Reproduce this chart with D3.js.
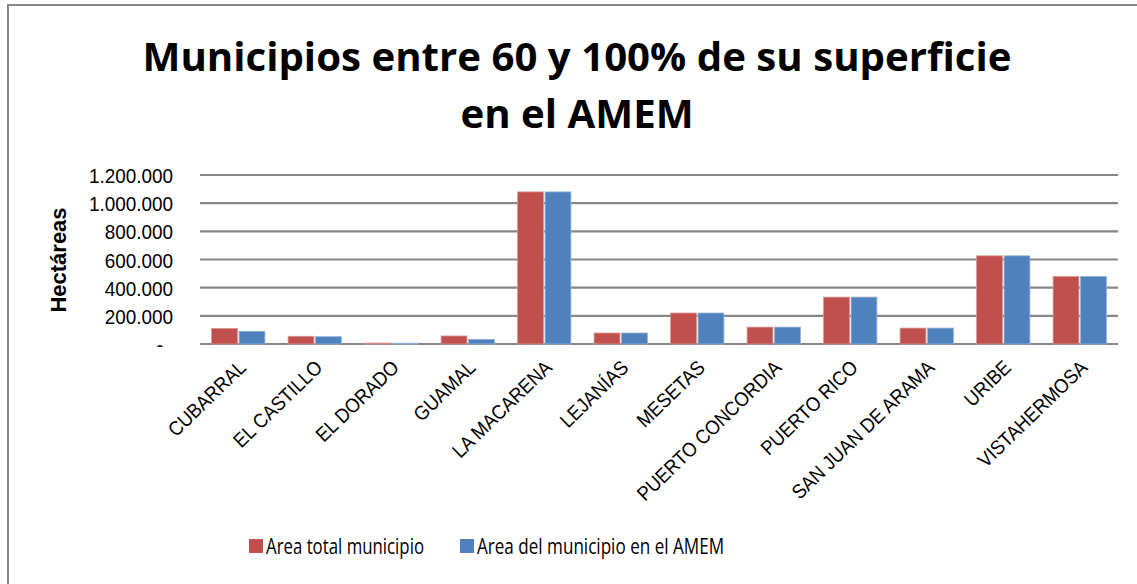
<!DOCTYPE html>
<html>
<head>
<meta charset="utf-8">
<script src="https://cdn.jsdelivr.net/npm/d3@7"></script>
<style>
  body { margin: 0; background: #fff; }
  svg { display: block; }
</style>
</head>
<body>
<div class="chart"></div>
<script>
// data
var municipios = ["CUBARRAL", "EL CASTILLO", "EL DORADO", "GUAMAL", "LA MACARENA", "LEJANÍAS",
  "MESETAS", "PUERTO CONCORDIA", "PUERTO RICO", "SAN JUAN DE ARAMA", "URIBE", "VISTAHERMOSA"];
var areaTotal = [111000, 55000, 7000, 57000, 1080000, 78000, 220000, 120000, 333000, 113000, 626000, 480000];
var areaAmem = [90000, 52000, 6000, 33000, 1080000, 78000, 220000, 120000, 333000, 113000, 626000, 480000];
var seriesNames = ["Area total municipio", "Area del municipio en el AMEM"];
var yTicks = [0, 200000, 400000, 600000, 800000, 1000000, 1200000];
var colors = ["#C0504D", "#4F81BD"];

var svgWidth = 1137;
var svgHeight = 584;
var margin = {top: 175, right: 19, bottom: 240, left: 200};
var width = svgWidth - margin.left - margin.right;
var height = svgHeight - margin.top - margin.bottom;

// squeeze text horizontally, the picture's text looks condensed
function squeeze(sel, k) {
    sel.each(function() {
        var l = this.getComputedTextLength();
        d3.select(this).attr("textLength", l * k).attr("lengthAdjust", "spacingAndGlyphs");
    });
}

var svg = d3.select(".chart")
    .append("svg")
    .attr("width", svgWidth)
    .attr("height", svgHeight);

// outer chart border (right/bottom fall outside the view)
svg.append("rect")
    .attr("x", 8).attr("y", 5)
    .attr("width", svgWidth).attr("height", svgHeight)
    .attr("fill", "none")
    .attr("stroke", "#868686")
    .attr("stroke-width", 2);

// title
var title = svg.append("text")
    .attr("x", 577)
    .attr("text-anchor", "middle")
    .style("font-family", "'Open Sans', sans-serif")
    .style("font-weight", "bold")
    .style("font-size", "40px");
title.append("tspan").attr("x", 577).attr("y", 71).text("Municipios entre 60 y 100% de su superficie");
title.append("tspan").attr("x", 577).attr("y", 128).text("en el AMEM");
// fit first line to the width seen in the picture
var w0 = title.select("tspan").node().getComputedTextLength();
title.style("font-size", (40 * 869 / w0) + "px");

var chart = svg.append("g")
    .attr("transform", "translate(" + margin.left + "," + margin.top + ")");

var x0 = d3.scaleBand().domain(municipios).range([0, width]).paddingInner(0.26).paddingOuter(0.13);
var x1 = d3.scaleBand().domain([0, 1]).range([0, x0.bandwidth()]).padding(0.06);
var y = d3.scaleLinear().domain([0, 1200000]).range([height, 0]);

// gridlines
chart.append("g")
    .selectAll("line")
    .data(yTicks)
    .enter()
    .append("line")
    .attr("x1", 0).attr("x2", width)
    .attr("y1", function(d) { return y(d); })
    .attr("y2", function(d) { return y(d); })
    .attr("stroke", "#868686")
    .attr("stroke-width", 2.2);

// y axis labels
var fmt = function(d) {
    if (d === 0) return "-";
    return d3.format(",")(d).replace(/,/g, ".");
};
var leftAxis = d3.axisLeft(y).tickValues(yTicks).tickFormat(fmt).tickSize(0).tickPadding(27);
var yAxis = chart.append("g").call(leftAxis);
yAxis.select(".domain").remove();
yAxis.selectAll("text")
    .style("font-family", "'Liberation Sans', Arial, sans-serif")
    .style("font-size", "21px")
    .attr("fill", "#000")
    .attr("dy", "0.36em");
squeeze(yAxis.selectAll("text"), 0.9);
// the zero dash sits a little left, as in accounting format
yAxis.selectAll("text").filter(function(d) { return d === 0; }).attr("dx", -10);

// bars
var series = [areaTotal, areaAmem];
series.forEach(function(vals, s) {
    chart.append("g")
        .selectAll("rect")
        .data(vals)
        .enter()
        .append("rect")
        .attr("x", function(d, i) { return x0(municipios[i]) + x1(s); })
        .attr("y", function(d) { return y(d); })
        .attr("width", x1.bandwidth())
        .attr("height", function(d) { return height - y(d); })
        .attr("fill", colors[s])
        .attr("stroke", s === 0 ? "#D99795" : "#95B3D7")
        .attr("stroke-width", 0.8);
});

// x axis labels, rotated
var bottomAxis = d3.axisBottom(x0).tickSize(0).tickPadding(0);
var xAxis = chart.append("g")
    .attr("transform", "translate(0," + height + ")")
    .call(bottomAxis);
xAxis.select(".domain").remove();
xAxis.selectAll("text")
    .style("font-family", "'Liberation Sans', Arial, sans-serif")
    .style("font-size", "20px")
    .attr("fill", "#000")
    .attr("text-anchor", "end")
    .attr("dy", 0)
    .attr("y", 0)
    .attr("transform", "translate(9,25) rotate(-44)");
squeeze(xAxis.selectAll("text"), 0.91);

// y axis title
svg.append("text")
    .attr("transform", "translate(66,260) rotate(-90)")
    .attr("text-anchor", "middle")
    .style("font-family", "'Liberation Sans', Arial, sans-serif")
    .style("font-weight", "bold")
    .style("font-size", "22px")
    .text("Hectáreas");

// legend
var legendX = [249, 460];
var legendW = [158, 247];
seriesNames.forEach(function(name, s) {
    svg.append("rect")
        .attr("x", legendX[s]).attr("y", 539)
        .attr("width", 14).attr("height", 14)
        .attr("fill", colors[s]);
    svg.append("text")
        .attr("x", legendX[s] + 17).attr("y", 554)
        .attr("textLength", legendW[s])
        .attr("lengthAdjust", "spacingAndGlyphs")
        .style("font-family", "'Open Sans', sans-serif")
        .style("font-size", "22px")
        .text(name);
});
</script>
</body>
</html>
